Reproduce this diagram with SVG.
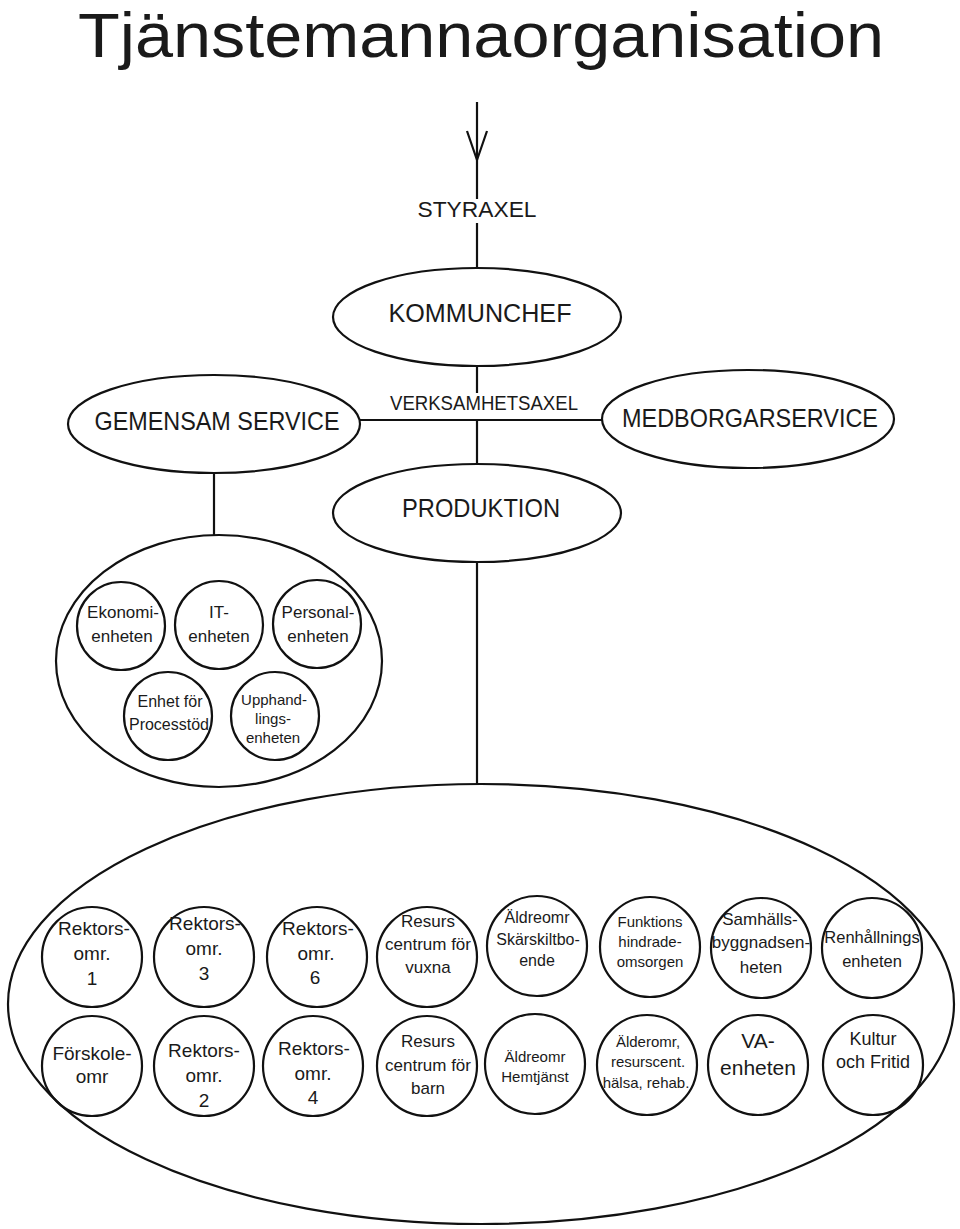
<svg xmlns="http://www.w3.org/2000/svg" width="960" height="1229" viewBox="0 0 960 1229">
<style>
.bg{fill:#ffffff}
.sh{fill:none;stroke:#111;stroke-width:2.2}
.ln{fill:none;stroke:#111;stroke-width:2.2}
text{font-family:"Liberation Sans",Arial,sans-serif;fill:#1a1a1a;text-anchor:middle}
.big{font-size:26px}
.ax{font-size:22px}
.r{font-size:19px}
.s17{font-size:17px}
.s16{font-size:16px}
.s15{font-size:15px}
</style>
<rect class="bg" x="0" y="0" width="960" height="1229"/>
<text x="481" y="57" font-size="63" textLength="806" lengthAdjust="spacingAndGlyphs">Tjänstemannaorganisation</text>

<g id="connectors">
<line class="ln" x1="477" y1="102" x2="477" y2="199"/>
<path class="ln" d="M467,131 L477,160 L487,131"/>
<line class="ln" x1="477" y1="223" x2="477" y2="268"/>
<line class="ln" x1="477" y1="366" x2="477" y2="393"/>
<line class="ln" x1="360" y1="420" x2="603" y2="420"/>
<line class="ln" x1="477" y1="420" x2="477" y2="464"/>
<line class="ln" x1="214" y1="473" x2="214" y2="535"/>
<line class="ln" x1="477" y1="562" x2="477" y2="785"/>
</g>

<g id="styraxel"><text class="ax" x="477" y="217" textLength="119" lengthAdjust="spacingAndGlyphs">STYRAXEL</text></g>
<g id="verksamhetsaxel"><text x="484" y="410" font-size="20" textLength="188" lengthAdjust="spacingAndGlyphs">VERKSAMHETSAXEL</text></g>

<g id="kommunchef">
<ellipse class="sh" cx="477" cy="317" rx="144" ry="49"/>
<text class="big" x="480" y="322" textLength="183" lengthAdjust="spacingAndGlyphs">KOMMUNCHEF</text>
</g>
<g id="gemensam-service">
<ellipse class="sh" cx="214" cy="424" rx="146" ry="49"/>
<text class="big" x="217" y="430" textLength="245" lengthAdjust="spacingAndGlyphs">GEMENSAM SERVICE</text>
</g>
<g id="medborgarservice">
<ellipse class="sh" cx="748" cy="419" rx="146" ry="49"/>
<text class="big" x="750" y="427" textLength="256" lengthAdjust="spacingAndGlyphs">MEDBORGARSERVICE</text>
</g>
<g id="produktion">
<ellipse class="sh" cx="477" cy="513" rx="144" ry="49"/>
<text class="big" x="481" y="517" textLength="158" lengthAdjust="spacingAndGlyphs">PRODUKTION</text>
</g>

<g id="service-cluster">
<ellipse class="sh" cx="219" cy="661" rx="163" ry="126"/>
</g>
<g id="ekonomienheten">
<circle class="sh" cx="121" cy="626" r="44"/>
<text class="s17" x="123" y="618">Ekonomi-</text>
<text class="s17" x="122" y="642">enheten</text>
</g>
<g id="it-enheten">
<circle class="sh" cx="219" cy="625" r="44"/>
<text class="s17" x="219" y="618">IT-</text>
<text class="s17" x="219" y="642">enheten</text>
</g>
<g id="personalenheten">
<circle class="sh" cx="317" cy="624" r="44"/>
<text class="s17" x="318" y="618">Personal-</text>
<text class="s17" x="318" y="642">enheten</text>
</g>
<g id="processtod">
<circle class="sh" cx="168" cy="716" r="44"/>
<text class="s16" x="170" y="707">Enhet för</text>
<text class="s16" x="169" y="730">Processtöd</text>
</g>
<g id="upphandlingsenheten">
<circle class="sh" cx="275" cy="716" r="44"/>
<text class="s15" x="274" y="705">Upphand-</text>
<text class="s15" x="273" y="724">lings-</text>
<text class="s15" x="273" y="743">enheten</text>
</g>

<g id="produktion-cluster">
<ellipse class="sh" cx="481" cy="1004" rx="473" ry="220"/>
</g>

<g id="rektor1">
<circle class="sh" cx="92" cy="957" r="50"/>
<text class="r" x="94" y="935">Rektors-</text>
<text class="r" x="92" y="960">omr.</text>
<text class="r" x="92" y="985">1</text>
</g>
<g id="rektor3">
<circle class="sh" cx="204" cy="957" r="50"/>
<text class="r" x="205" y="930">Rektors-</text>
<text class="r" x="204" y="955">omr.</text>
<text class="r" x="204" y="980">3</text>
</g>
<g id="rektor6">
<circle class="sh" cx="317" cy="957" r="50"/>
<text class="r" x="318" y="935">Rektors-</text>
<text class="r" x="316" y="960">omr.</text>
<text class="r" x="315" y="984">6</text>
</g>
<g id="resurs-vuxna">
<circle class="sh" cx="427" cy="957" r="50"/>
<text class="s17" x="428" y="927">Resurs</text>
<text class="s17" x="428" y="950">centrum för</text>
<text class="s17" x="428" y="973">vuxna</text>
</g>
<g id="aldre-sarskilt">
<circle class="sh" cx="537" cy="946" r="50"/>
<text class="s16" x="537" y="923">Äldreomr</text>
<text class="s16" x="538" y="945">Skärskiltbo-</text>
<text class="s16" x="537" y="966">ende</text>
</g>
<g id="funktionshindrade">
<circle class="sh" cx="650" cy="947" r="50"/>
<text class="s15" x="650" y="927">Funktions</text>
<text class="s15" x="650" y="947">hindrade-</text>
<text class="s15" x="650" y="967">omsorgen</text>
</g>
<g id="samhallsbyggnad">
<circle class="sh" cx="761" cy="948" r="50"/>
<text class="s17" x="760" y="925">Samhälls-</text>
<text class="s17" x="761" y="948">byggnadsen-</text>
<text class="s17" x="761" y="973">heten</text>
</g>
<g id="renhallning">
<circle class="sh" cx="872" cy="948" r="50"/>
<text x="872" y="943" font-size="16.5">Renhållnings</text>
<text x="872" y="967" font-size="16.5">enheten</text>
</g>

<g id="forskole">
<circle class="sh" cx="92" cy="1066" r="50"/>
<text class="r" x="92" y="1060">Förskole-</text>
<text class="r" x="92" y="1083">omr</text>
</g>
<g id="rektor2">
<circle class="sh" cx="204" cy="1066" r="50"/>
<text class="r" x="204" y="1057">Rektors-</text>
<text class="r" x="204" y="1082">omr.</text>
<text class="r" x="204" y="1107">2</text>
</g>
<g id="rektor4">
<circle class="sh" cx="313" cy="1066" r="50"/>
<text class="r" x="314" y="1055">Rektors-</text>
<text class="r" x="313" y="1080">omr.</text>
<text class="r" x="313" y="1104">4</text>
</g>
<g id="resurs-barn">
<circle class="sh" cx="427" cy="1066" r="50"/>
<text class="s17" x="428" y="1047">Resurs</text>
<text class="s17" x="428" y="1071">centrum för</text>
<text class="s17" x="428" y="1094">barn</text>
</g>
<g id="aldre-hemtjanst">
<circle class="sh" cx="535" cy="1064" r="50"/>
<text class="s15" x="535" y="1062">Äldreomr</text>
<text class="s15" x="535" y="1082">Hemtjänst</text>
</g>
<g id="alder-resurscent">
<circle class="sh" cx="647" cy="1065" r="50"/>
<text class="s15" x="648" y="1047">Älderomr,</text>
<text class="s15" x="648" y="1067">resurscent.</text>
<text class="s15" x="646" y="1088">hälsa, rehab.</text>
</g>
<g id="va-enheten">
<circle class="sh" cx="758" cy="1065" r="50"/>
<text x="758" y="1048" font-size="21">VA-</text>
<text x="758" y="1075" font-size="21">enheten</text>
</g>
<g id="kultur-fritid">
<circle class="sh" cx="873" cy="1065" r="50"/>
<text x="873" y="1045" font-size="18">Kultur</text>
<text x="873" y="1068" font-size="18">och Fritid</text>
</g>
</svg>
